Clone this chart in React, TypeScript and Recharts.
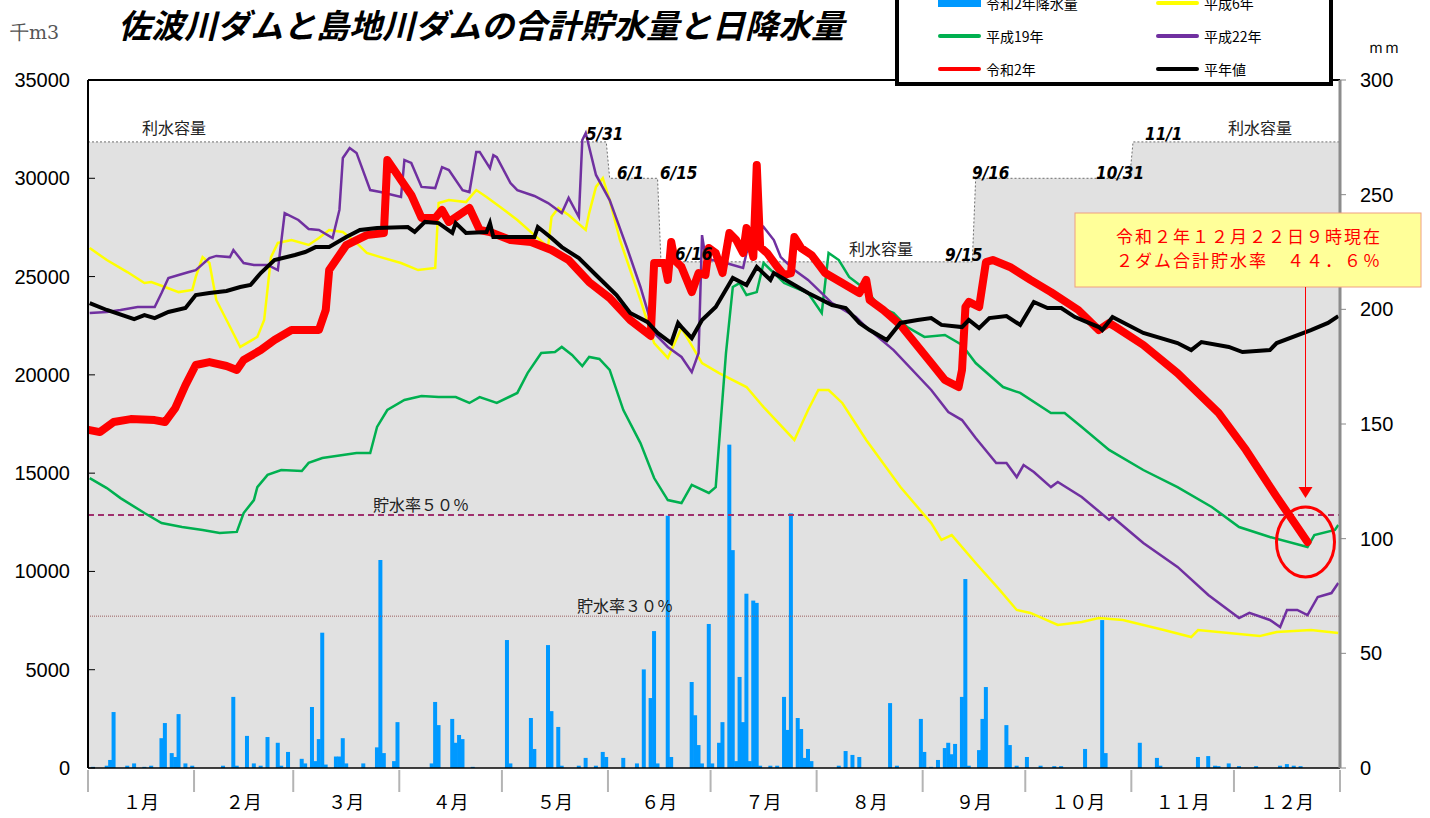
import React from 'react';
import { ComposedChart, Area, Bar, Line, XAxis, YAxis, ReferenceLine, ReferenceDot, Legend } from 'recharts';

// day index: 0 = 1/1 (2020, leap year, 366 days)
const monthLabels = ['１月', '２月', '３月', '４月', '５月', '６月', '７月', '８月', '９月', '１０月', '１１月', '１２月'];
const monthDays = [31, 29, 31, 30, 31, 30, 31, 31, 30, 31, 30, 31];
const monthStarts = [0, 31, 60, 91, 121, 152, 182, 213, 244, 274, 305, 335, 366];

const leftTicks = [0, 5000, 10000, 15000, 20000, 25000, 30000, 35000];
const rightTicks = [0, 50, 100, 150, 200, 250, 300];

// 利水容量 [first day, last day, level]
const capacitySteps = [
  [0, 151, 31850],
  [152, 166, 30000],
  [167, 258, 25750],
  [259, 304, 30000],
  [305, 365, 31850],
];
const rate50 = 12875;
const rate30 = 7725;

// 令和2年 daily rainfall [day, mm]
const rain2020 = [
  [1, 0.5], [5, 1], [6, 3.5], [7, 24.4], [11, 1], [13, 2], [16, 0.5], [18, 1], [21, 13], [22, 19.6],
  [24, 6.5], [25, 4.8], [26, 23.5], [28, 2], [30, 1], [39, 1], [42, 31], [43, 1], [46, 14], [48, 2],
  [50, 1], [52, 13.5], [55, 11], [56, 1], [58, 7], [62, 4], [63, 2], [65, 26.6], [66, 3], [67, 12.6],
  [68, 59], [69, 1.5], [72, 5], [73, 5], [74, 13], [75, 2], [80, 2], [84, 9], [85, 90.7], [86, 6.5],
  [89, 3], [90, 20], [100, 2], [101, 28.8], [102, 18.7], [106, 21.4], [107, 11], [108, 14.4], [109, 12.6], [112, 0.5],
  [122, 55.8], [123, 2], [129, 21.8], [130, 8.3], [134, 53.6], [135, 24.8], [137, 17.9], [138, 1], [143, 1], [145, 4.4],
  [148, 1], [150, 7], [151, 4.8], [156, 4.4], [160, 2], [162, 43], [164, 30.5], [165, 59.7], [166, 2], [169, 110],
  [170, 4.8], [176, 37.5], [177, 23], [178, 10], [179, 2], [181, 62.8], [182, 2], [184, 11], [185, 20], [187, 141],
  [188, 95], [189, 3], [190, 39.7], [191, 20], [192, 76], [193, 3], [194, 73], [195, 72], [196, 1], [199, 1],
  [201, 1], [203, 31], [204, 16.6], [205, 111], [207, 21.8], [208, 17], [209, 4.4], [210, 8.3], [211, 3], [219, 1],
  [221, 7.4], [223, 5.7], [225, 4.8], [234, 28.3], [236, 1], [243, 21.4], [244, 7], [246, 0.5], [248, 3.5], [250, 8.7],
  [251, 11], [252, 6], [253, 10.5], [255, 31], [256, 82.4], [257, 1], [260, 7.8], [261, 21.4], [262, 35.3], [268, 18.7],
  [269, 10], [271, 1], [274, 4.8], [278, 1], [282, 0.8], [284, 0.8], [291, 8.3], [296, 64.5], [297, 6.5], [307, 11],
  [312, 4.4], [313, 1], [324, 4.8], [327, 5.2], [329, 1], [330, 0.8], [333, 2], [336, 0.8], [341, 0.8], [348, 1],
  [350, 1.7], [352, 1], [354, 0.8],
];

// storage, 千m3 [day, value]
const reiwa2 = [
  [0, 17190], [3, 17090], [7, 17600], [12, 17750], [19, 17700], [22, 17600], [25, 18310], [28, 19480], [31, 20500], [35, 20650],
  [40, 20450], [43, 20250], [45, 20760], [50, 21260], [54, 21770], [59, 22280], [67, 22280], [69, 23300], [70, 25330], [75, 26600],
  [81, 27110], [86, 27220], [87, 30930], [88, 30680], [91, 29910], [94, 29150], [97, 27980], [101, 27980], [103, 28390], [105, 27780],
  [111, 28490], [114, 27370], [117, 27270], [123, 26860], [129, 26760], [135, 26350], [140, 25840], [146, 24720], [152, 23910], [158, 22790],
  [164, 21980], [165, 25690], [168, 25690], [169, 24830], [170, 26760], [171, 25840], [173, 25490], [176, 24210], [178, 25180], [180, 25080],
  [181, 26450], [183, 26200], [185, 25180], [187, 27220], [189, 26860], [191, 26200], [192, 27470], [194, 26000], [195, 30680], [196, 26500],
  [198, 26200], [201, 25490], [203, 25080], [205, 25180], [206, 27010], [208, 26450], [211, 26100], [215, 25180], [220, 24670], [225, 24160],
  [227, 24830], [228, 23810], [232, 23300], [237, 22540], [246, 20600], [250, 19740], [254, 19380], [255, 20250], [256, 23450], [257, 23710],
  [260, 23450], [262, 25740], [264, 25840], [269, 25490], [275, 24830], [281, 24210], [289, 23300], [295, 22280], [298, 22640], [300, 22430],
  [308, 21520], [318, 20090], [330, 18060], [338, 16180], [347, 13790], [356, 11500],
];

const heiseiNormal = [
  [0, 23650], [5, 23300], [13, 22840], [16, 23040], [19, 22890], [23, 23200], [28, 23400], [31, 24060], [35, 24160], [40, 24270],
  [44, 24470], [47, 24570], [50, 25180], [54, 25840], [60, 26100], [63, 26250], [66, 26500], [70, 26500], [75, 27010], [79, 27370],
  [84, 27470], [93, 27520], [95, 27270], [98, 27780], [102, 27720], [106, 27220], [107, 27720], [110, 27220], [116, 27270], [117, 27720],
  [118, 27010], [125, 27010], [130, 27010], [131, 27520], [135, 26960], [138, 26500], [143, 25940], [148, 25080], [154, 24060], [158, 23150],
  [163, 22690], [166, 22130], [170, 21620], [172, 22640], [173, 22430], [176, 21870], [179, 22790], [183, 23450], [188, 24930], [192, 24570],
  [195, 25490], [199, 24830], [200, 25180], [205, 24670], [210, 24160], [217, 23550], [221, 23400], [225, 22640], [228, 22280], [233, 21770],
  [237, 22640], [242, 22790], [246, 22890], [249, 22540], [255, 22430], [257, 22790], [260, 22380], [263, 22890], [268, 22990], [272, 22540],
  [276, 23710], [280, 23400], [284, 23400], [288, 22940], [295, 22430], [296, 22280], [299, 22940], [308, 22130], [318, 21620], [322, 21260],
  [325, 21670], [333, 21420], [337, 21160], [345, 21260], [347, 21620], [357, 22280], [362, 22640], [365, 22990],
];

const heisei6 = [
  [0, 26450], [5, 25840], [11, 25230], [16, 24670], [18, 24720], [22, 24470], [26, 24210], [30, 24320], [31, 24980], [33, 25990],
  [35, 25690], [37, 23810], [40, 22790], [44, 21420], [49, 21930], [51, 22790], [53, 25990], [55, 26710], [59, 26860], [64, 26610],
  [67, 26960], [70, 27370], [74, 27270], [78, 26710], [81, 26200], [85, 25990], [91, 25690], [96, 25330], [101, 25440], [102, 28740],
  [105, 28890], [110, 28790], [113, 29400], [116, 29050], [120, 28540], [125, 27880], [130, 27110], [134, 26500], [135, 28030], [137, 28490],
  [140, 28130], [145, 27370], [146, 28230], [148, 29560], [150, 30010], [152, 28890], [155, 26860], [161, 23810], [165, 21620], [169, 20860],
  [173, 22380], [179, 20600], [184, 20090], [192, 19380], [197, 18360], [206, 16690], [210, 18210], [213, 19230], [216, 19230], [220, 18570],
  [227, 16690], [237, 14290], [246, 12460], [249, 11600], [252, 11850], [259, 10430], [266, 9060], [271, 8040], [275, 7890], [283, 7280],
  [290, 7430], [295, 7630], [302, 7530], [314, 7020], [322, 6660], [324, 7020], [342, 6710], [347, 6920], [357, 7020], [365, 6870],
];

const heisei19 = [
  [0, 14750], [5, 14240], [9, 13730], [16, 12970], [21, 12460], [27, 12260], [33, 12110], [38, 11950], [43, 12010], [45, 12970],
  [48, 13630], [49, 14290], [52, 14910], [56, 15160], [62, 15110], [64, 15520], [68, 15770], [74, 15920], [78, 16020], [82, 16020],
  [84, 17350], [87, 18210], [92, 18720], [97, 18920], [102, 18870], [107, 18870], [111, 18570], [114, 18870], [119, 18570], [125, 19080],
  [128, 20090], [132, 21110], [136, 21160], [138, 21420], [141, 21010], [144, 20450], [146, 20910], [149, 20810], [152, 20250], [156, 18210],
  [161, 16530], [165, 14750], [169, 13630], [173, 13480], [176, 14400], [181, 13990], [183, 14290], [186, 21110], [188, 24470], [190, 24670],
  [192, 24060], [195, 24210], [197, 25690], [203, 24670], [210, 24160], [214, 23150], [216, 26200], [219, 25840], [222, 24980], [227, 24320],
  [231, 23450], [235, 23150], [239, 22430], [244, 21930], [250, 22030], [255, 21520], [259, 20600], [267, 19380], [272, 19080], [281, 18060],
  [285, 18060], [290, 17350], [298, 16180], [308, 15160], [318, 14290], [328, 13280], [336, 12260], [345, 11750], [356, 11240], [358, 11850],
  [364, 12110], [365, 12360],
];

const heisei22 = [
  [0, 23150], [5, 23200], [9, 23300], [14, 23450], [19, 23450], [21, 24160], [23, 24930], [26, 25080], [29, 25230], [31, 25330],
  [35, 25940], [37, 26050], [41, 25990], [42, 26350], [45, 25690], [48, 25590], [52, 25590], [55, 25330], [57, 28230], [61, 27880],
  [64, 27420], [67, 27370], [71, 26960], [73, 28390], [74, 31030], [76, 31540], [78, 31290], [82, 29400], [85, 29300], [91, 29050],
  [92, 30930], [94, 30780], [97, 29560], [101, 29500], [103, 30570], [105, 30420], [109, 29400], [111, 29300], [113, 31340], [114, 31340],
  [117, 30520], [118, 31180], [119, 31080], [123, 29760], [125, 29400], [130, 29100], [134, 28740], [138, 28230], [140, 29000], [143, 28030],
  [144, 31950], [145, 32300], [148, 30170], [152, 28890], [157, 26500], [161, 24470], [165, 22130], [169, 21420], [173, 20910], [176, 20140],
  [178, 21110], [179, 27110], [180, 25990], [182, 25840], [186, 25690], [191, 25440], [192, 26200], [194, 26860], [197, 27520], [200, 26860],
  [202, 25990], [206, 25330], [210, 24830], [217, 23650], [224, 22940], [227, 22430], [235, 21260], [246, 19230], [251, 18110], [255, 17700],
  [259, 16790], [265, 15520], [268, 15520], [271, 14800], [273, 15410], [276, 15060], [281, 14290], [283, 14550], [290, 13790], [298, 12620],
  [299, 12770], [308, 11450], [318, 10230], [327, 8800], [336, 7630], [339, 7890], [345, 7530], [348, 7170], [350, 8040], [353, 8040],
  [356, 7780], [359, 8700], [363, 8900], [365, 9410],
];

const PLOT_LEFT = 88;
const PLOT_RIGHT = 1340;
const PLOT_BOTTOM = 768;
const DAY_PX = (PLOT_RIGHT - PLOT_LEFT) / 366;

const FONT_JP = '"Noto Sans CJK JP", "Noto Sans", sans-serif';
const FONT_NUM = '"Liberation Sans", Arial, sans-serif';
const FONT_DATE = '"DejaVu Sans Condensed", "Liberation Sans Narrow", sans-serif';

const toPoints = (s: number[][]) => s.map(([d, v]) => ({ x: d + 0.5, v }));
const rainData = rain2020.map(([d, mm]) => ({ x: d + 0.5, rain: mm }));
const capacityArea = capacitySteps.flatMap(([first, last, level], i) => [
  { x: i === 0 ? 0 : first + 0.5, v: level },
  { x: i === capacitySteps.length - 1 ? 366 : last + 0.5, v: level },
]);

const legendItems = [
  { name: '令和2年降水量', color: '#0099ff', bar: true },
  { name: '平成6年', color: '#ffff00' },
  { name: '平成19年', color: '#00b050' },
  { name: '平成22年', color: '#7030a0' },
  { name: '令和2年', color: '#ff0000' },
  { name: '平年値', color: '#000000' },
];

function LegendBox() {
  return (
    <div style={{ position: 'relative', width: 438, height: 110, boxSizing: 'border-box', border: '4px solid #000', background: '#fff', fontFamily: FONT_JP, fontSize: 14, overflow: 'hidden' }}>
      {legendItems.map((it, i) => {
        const row = Math.floor(i / 2);
        const col = i % 2;
        const cy = 23 + row * 33;
        const left = col === 0 ? 39 : 257;
        return (
          <div key={it.name}>
            <div style={{ position: 'absolute', left, top: cy - (it.bar ? 4 : 2), width: 43, height: it.bar ? 8 : 4, background: it.color, borderRadius: it.bar ? 0 : 2 }} />
            <div style={{ position: 'absolute', left: left + 48, top: cy - 10, lineHeight: '20px', color: '#000', whiteSpace: 'nowrap' }}>{it.name}</div>
          </div>
        );
      })}
    </div>
  );
}

const MonthTick = (props: any) => {
  const { x, payload } = props;
  const i = monthStarts.indexOf(payload.value);
  const w = (monthDays[i] ?? 0) * DAY_PX;
  return (
    <g>
      <line x1={x} x2={x} y1={PLOT_BOTTOM + 2} y2={PLOT_BOTTOM + 24} stroke="#b4b4b4" strokeWidth={2} />
      {i >= 0 && i < 12 && (
        <text x={x + w / 2} y={801} textAnchor="middle" dominantBaseline="central" fontSize={18} fontFamily={FONT_JP} fill="#000">
          {monthLabels[i]}
        </text>
      )}
    </g>
  );
};

const LeftTick = (props: any) => {
  const { y, payload } = props;
  return (
    <g>
      <line x1={PLOT_LEFT} x2={PLOT_LEFT + 7} y1={y} y2={y} stroke="#000" />
      <text x={70} y={y} textAnchor="end" dominantBaseline="central" fontSize={20} fontFamily={FONT_NUM} fill="#000">
        {payload.value}
      </text>
    </g>
  );
};

const RainBar = (props: any) => {
  const { x, y, width, height } = props;
  if (!height || height <= 0) return null;
  return <rect x={x + width / 2 - 2} y={y} width={4} height={height} fill="#0099ff" />;
};

const NowMarker = (props: any) => {
  const { cx, cy } = props;
  return (
    <g>
      <rect x={1075} y={213} width={346} height={74} fill="#ffff99" stroke="#f0a080" strokeWidth={1} />
      <text x={1249} y={243} textAnchor="middle" fontSize={17} letterSpacing={2} fontFamily={FONT_JP} fill="#ff0000">
        令和２年１２月２２日９時現在
      </text>
      <text x={1249} y={267} textAnchor="middle" fontSize={17} letterSpacing={2} fontFamily={FONT_JP} fill="#ff0000">
        ２ダム合計貯水率　４４．６％
      </text>
      <line x1={cx - 2} x2={cx - 2} y1={287} y2={cy - 52} stroke="#ff0000" strokeWidth={1} />
      <path d={`M${cx - 9},${cy - 55} L${cx + 5},${cy - 55} L${cx - 2},${cy - 44} Z`} fill="#ff0000" />
      <ellipse cx={cx - 2} cy={cy} rx={29} ry={35} fill="none" stroke="#ff0000" strokeWidth={3} />
    </g>
  );
};

const dateLabel = { fontSize: 17, fontWeight: 'bold' as const, fontStyle: 'italic' as const, fontFamily: FONT_DATE, fill: '#000' };
const noteLabel = { fontSize: 16, fontFamily: FONT_JP, fill: '#222' };

const Notes = () => (
  <g>
    <text x={142} y={134} {...noteLabel}>利水容量</text>
    <text x={849} y={255} {...noteLabel}>利水容量</text>
    <text x={1228} y={134} {...noteLabel}>利水容量</text>
    <text x={373} y={511} {...noteLabel}>貯水率５０％</text>
    <text x={577} y={612} {...noteLabel}>貯水率３０％</text>

    <text x={586} y={140} {...dateLabel}>5/31</text>
    <text x={617} y={179} {...dateLabel}>6/1</text>
    <text x={660} y={179} {...dateLabel}>6/15</text>
    <text x={675} y={260} {...dateLabel}>6/16</text>
    <text x={945} y={261} {...dateLabel}>9/15</text>
    <text x={972} y={179} {...dateLabel}>9/16</text>
    <text x={1096} y={179} {...dateLabel}>10/31</text>
    <text x={1145} y={140} {...dateLabel}>11/1</text>
  </g>
);

export default function App() {
  const last = reiwa2[reiwa2.length - 1];
  return (
    <div style={{ position: 'absolute', left: 0, top: 0, width: 1430, height: 818, background: '#fff' }}>
      <ComposedChart width={1430} height={818} data={rainData} margin={{ top: 80, right: 0, bottom: 0, left: 0 }}>
        <XAxis
          dataKey="x"
          type="number"
          domain={[0, 366]}
          ticks={monthStarts}
          interval={0}
          tick={<MonthTick />}
          tickLine={false}
          axisLine={{ stroke: '#000', strokeWidth: 1.5 }}
          height={50}
          allowDataOverflow
        />
        <YAxis
          yAxisId="left"
          domain={[0, 35000]}
          ticks={leftTicks}
          interval={0}
          tick={<LeftTick />}
          tickLine={false}
          axisLine={{ stroke: '#000', strokeWidth: 2 }}
          width={88}
        />
        <YAxis
          yAxisId="right"
          orientation="right"
          domain={[0, 300]}
          ticks={rightTicks}
          interval={0}
          tick={{ fill: '#000', fontSize: 20, fontFamily: FONT_NUM }}
          tickLine={{ stroke: '#888' }}
          tickMargin={14}
          axisLine={{ stroke: '#8c8c8c', strokeWidth: 3 }}
          width={90}
        />
        <Legend
          layout="horizontal"
          verticalAlign="middle"
          align="center"
          content={() => <LegendBox />}
          wrapperStyle={{ left: 895, top: -24, width: 438, height: 110 }}
        />
        <Area
          yAxisId="left"
          data={capacityArea}
          dataKey="v"
          type="linear"
          fill="#e1e1e1"
          fillOpacity={1}
          stroke="#6e6e6e"
          strokeWidth={1}
          strokeDasharray="2 2"
          isAnimationActive={false}
        />
        <ReferenceLine yAxisId="left" y={rate50} stroke="#a0306e" strokeWidth={2} strokeDasharray="6 4" />
        <ReferenceLine yAxisId="left" y={rate30} stroke="#9a6060" strokeWidth={1} strokeDasharray="1 1" />
        <ReferenceLine yAxisId="left" y={35000} stroke="#000" strokeWidth={2} />
        <Bar yAxisId="right" dataKey="rain" fill="#0099ff" barSize={3} shape={<RainBar />} isAnimationActive={false} />
        <Line yAxisId="left" data={toPoints(heisei6)} dataKey="v" type="linear" stroke="#ffff00" strokeWidth={2.5} dot={false} isAnimationActive={false} />
        <Line yAxisId="left" data={toPoints(heisei19)} dataKey="v" type="linear" stroke="#00b050" strokeWidth={2.5} dot={false} isAnimationActive={false} />
        <Line yAxisId="left" data={toPoints(heisei22)} dataKey="v" type="linear" stroke="#7030a0" strokeWidth={2.5} dot={false} isAnimationActive={false} />
        <Line yAxisId="left" data={toPoints(reiwa2)} dataKey="v" type="linear" stroke="#ff0000" strokeWidth={8} strokeLinejoin="round" strokeLinecap="round" dot={false} isAnimationActive={false} />
        <Line yAxisId="left" data={toPoints(heiseiNormal)} dataKey="v" type="linear" stroke="#000" strokeWidth={4} dot={false} isAnimationActive={false} />
        <ReferenceDot yAxisId="left" x={0} y={0} ifOverflow="visible" shape={() => <Notes />} />
        <ReferenceDot
          yAxisId="left"
          x={last[0] + 0.5}
          y={last[1]}
          ifOverflow="visible"
          shape={(p: any) => <NowMarker {...p} />}
        />

        <text x={10} y={39} fontSize={19} fontFamily='"DejaVu Serif", serif' fill="#555">千m3</text>
        <text x={118} y={38} fontSize={33} fontWeight="bold" fontStyle="italic" fontFamily={FONT_JP} fill="#000">
          佐波川ダムと島地川ダムの合計貯水量と日降水量
        </text>
        <text x={1368} y={53} fontSize={16} fontFamily='"DejaVu Serif", serif' fill="#000">ｍｍ</text>
      </ComposedChart>
    </div>
  );
}
